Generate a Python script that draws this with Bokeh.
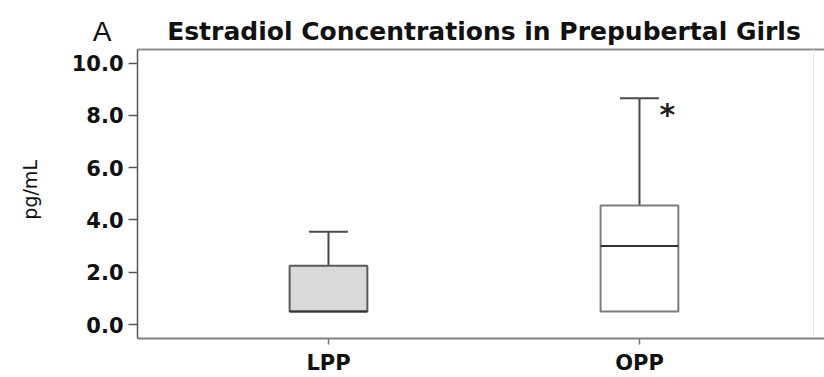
import math

from bokeh.plotting import figure
from bokeh.models import (Range1d, FixedTicker, Label,
                          ColumnDataSource, NumeralTickFormatter)
from bokeh.core.properties import value
from bokeh.embed import file_html
from bokeh.resources import INLINE

# Estradiol box-plot summary per group (pg/mL)
categories = ["LPP", "OPP"]
lower = [0.5, 0.5]
q1 = [0.5, 0.5]
median = [0.5, 3.0]
q3 = [2.25, 4.55]
upper = [3.55, 8.65]
y_ticks = [0, 2, 4, 6, 8, 10]
significance = ["", "*"]

box_fill = ["#d9d9d9", "#ffffff"]
box_line = ["#5a5a5a", "#7c7c7c"]

# extents of the value panel; the remaining canvas holds title and y labels
X_LEFT, X_RIGHT, X_EDGE = 0.386, 2.595, 2.56
Y_BOTTOM, Y_TOP = -0.534, 10.52

xpos = [i + 1 for i in range(len(categories))]
box_w = 0.25
cap_w = 0.125

src = ColumnDataSource(dict(
    x=xpos, cat=categories, lower=lower, q1=q1, median=median, q3=q3,
    upper=upper, fill=box_fill, line=box_line,
    cap_l=[x - cap_w / 2 for x in xpos], cap_r=[x + cap_w / 2 for x in xpos],
    box_l=[x - box_w / 2 for x in xpos], box_r=[x + box_w / 2 for x in xpos],
    sig=significance,
))

p = figure(width=824, height=377, output_backend="svg", toolbar_location=None,
           x_range=Range1d(-0.0547, X_RIGHT), y_range=Range1d(Y_BOTTOM, 12.39),
           min_border_left=0, min_border_right=0,
           min_border_top=0, min_border_bottom=38)
p.grid.visible = False
p.outline_line_color = None
p.background_fill_color = "white"
p.border_fill_color = "white"

# top edge of the value panel and a faint right edge
p.segment(x0=[X_LEFT], y0=[Y_TOP], x1=[X_RIGHT], y1=[Y_TOP],
          line_color="#8c8c8c", line_width=2)
p.segment(x0=[X_EDGE], y0=[Y_BOTTOM], x1=[X_EDGE], y1=[Y_TOP],
          line_color="#e6e6e6", line_width=1)

# whiskers and caps
p.segment(x0="x", y0="q3", x1="x", y1="upper", source=src,
          line_color="#4a4a4a", line_width=2)
p.segment(x0="x", y0="lower", x1="x", y1="q1", source=src,
          line_color="#4a4a4a", line_width=2)
p.segment(x0="cap_l", y0="upper", x1="cap_r", y1="upper", source=src,
          line_color="#4a4a4a", line_width=2)

# boxes
p.vbar(x="x", width=box_w, bottom="q1", top="q3", source=src,
       fill_color="fill", line_color="line", line_width=2)

# medians
p.segment(x0="box_l", y0="median", x1="box_r", y1="median", source=src,
          line_color="#333333", line_width=2)

# significance marker
p.text(x="x", y="upper", text="sig", source=src, x_offset=28, y_offset=16,
       text_font=value("DejaVu Sans"), text_font_style="bold",
       text_font_size="30px", text_color="#222222",
       text_align="center", text_baseline="middle")

# y axis, pinned at the left edge of the value panel
ya = p.yaxis[0]
ya.fixed_location = X_LEFT
ya.bounds = (Y_BOTTOM, Y_TOP)
ya.ticker = FixedTicker(ticks=y_ticks)
ya.formatter = NumeralTickFormatter(format="0.0")
ya.minor_tick_line_color = None
ya.major_tick_out = 9
ya.major_tick_in = 0
ya.major_tick_line_color = "#555555"
ya.major_tick_line_width = 1.5
ya.axis_line_color = "#555555"
ya.axis_line_width = 1.5
ya.major_label_standoff = 5
ya.major_label_text_font = "DejaVu Sans"
ya.major_label_text_font_style = "bold"
ya.major_label_text_font_size = "21px"
ya.major_label_text_color = "#111111"

# x axis
xa = p.xaxis[0]
xa.bounds = (X_LEFT, X_RIGHT)
xa.ticker = FixedTicker(ticks=xpos)
xa.major_label_overrides = {x: c for x, c in zip(xpos, categories)}
xa.minor_tick_line_color = None
xa.major_tick_out = 6
xa.major_tick_in = 0
xa.major_tick_line_color = "#777777"
xa.major_tick_line_width = 1.5
xa.axis_line_color = "#808080"
xa.axis_line_width = 2
xa.major_label_standoff = 6
xa.major_label_text_font = "DejaVu Sans"
xa.major_label_text_font_style = "bold"
xa.major_label_text_font_size = "21px"
xa.major_label_text_color = "#111111"

# unit label of the value axis
p.add_layout(Label(x=0.0386, y=5.15, text="pg/mL", angle=math.pi / 2,
                   text_font="DejaVu Sans", text_font_size="19px",
                   text_color="#111111", text_align="center",
                   text_baseline="middle"))

# panel letter and title
p.add_layout(Label(x=0.2717, y=11.21, text="A", text_font="Liberation Sans",
                   text_font_size="28px", text_color="#111111",
                   text_align="center", text_baseline="alphabetic"))
p.add_layout(Label(x=1.5, y=11.21,
                   text="Estradiol Concentrations in Prepubertal Girls",
                   text_font="DejaVu Sans", text_font_style="bold",
                   text_font_size="25px", text_color="#111111",
                   text_align="center", text_baseline="alphabetic"))

open("out.html", "w").write(file_html(p, INLINE))
